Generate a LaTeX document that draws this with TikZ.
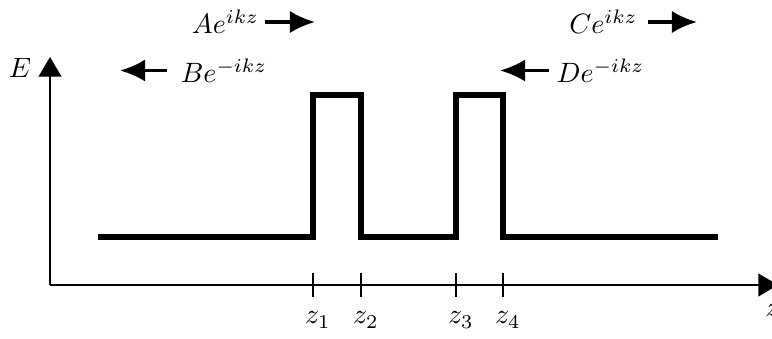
\documentclass[tikz,border=0pt]{standalone}
\usetikzlibrary{arrows.meta}
\begin{document}
\begin{tikzpicture}[
        x=0.6286cm, y=0.6286cm,
        axis_line/.style={
            line width=1pt,
            -{Triangle[length=7pt,width=8pt]}
        },
        wave_arrow/.style={
            line width=1.2pt,
            -{Latex[length=9pt,width=8pt]}
        },
        potential_line/.style={
            line width=1.8pt,
            line join=miter
        },
        tick_mark/.style={
            line width=0.8pt
        },
        wave_label/.style={
            inner sep=0pt
        }
    ]
        \def\baseheight{0.96}
        \def\barrierheight{3.8}

        \useasboundingbox (-1,-1.08) rectangle (14.44,5.7);

        % axes
        \coordinate (O) at (0,0);
        \coordinate (Etop) at (0,4.56);
        \coordinate (zend) at (14.56,0);
        \draw[axis_line] (O) -- (Etop);
        \draw[axis_line] (O) -- (zend);
        \node (Elabel) at (-0.6,4.35) {$E$};
        \node (zlabel) at (14.45,-0.5) {$z$};

        % double barrier
        \draw[potential_line] (0.96,\baseheight) -- (5.26,\baseheight)
            -- (5.26,\barrierheight) -- (6.22,\barrierheight)
            -- (6.22,\baseheight) -- (8.12,\baseheight)
            -- (8.12,\barrierheight) -- (9.06,\barrierheight)
            -- (9.06,\baseheight) -- (13.36,\baseheight);

        \foreach \zpos/\zname in {5.26/1, 6.22/2, 8.12/3, 9.06/4} {
            \draw[tick_mark] (\zpos,-0.24) -- (\zpos,0.24);
            \node (z\zname) at (\zpos+0.1,-0.7) {$z_\zname$};
        }

        % incoming and outgoing waves
        \node[wave_label] (A) at (3.51,5.26) {$Ae^{ikz}$};
        \node[wave_label] (B) at (3.48,4.29) {$Be^{-ikz}$};
        \node[wave_label] (C) at (11.07,5.26) {$Ce^{ikz}$};
        \node[wave_label] (D) at (11.01,4.29) {$De^{-ikz}$};

        \coordinate (Aend) at (5.3,5.24);
        \coordinate (Bend) at (1.4,4.3);
        \coordinate (Cend) at (12.94,5.24);
        \coordinate (Dend) at (9.0,4.3);

        \draw[wave_arrow] ([xshift=1.8pt]A.east) -- (A.east -| Aend);
        \draw[wave_arrow] ([xshift=-4.6pt]B.west) -- (B.west -| Bend);
        \draw[wave_arrow] ([xshift=3.6pt]C.east) -- (C.east -| Cend);
        \draw[wave_arrow] ([xshift=-2.5pt]D.west) -- (D.west -| Dend);
    \end{tikzpicture}
\end{document}
